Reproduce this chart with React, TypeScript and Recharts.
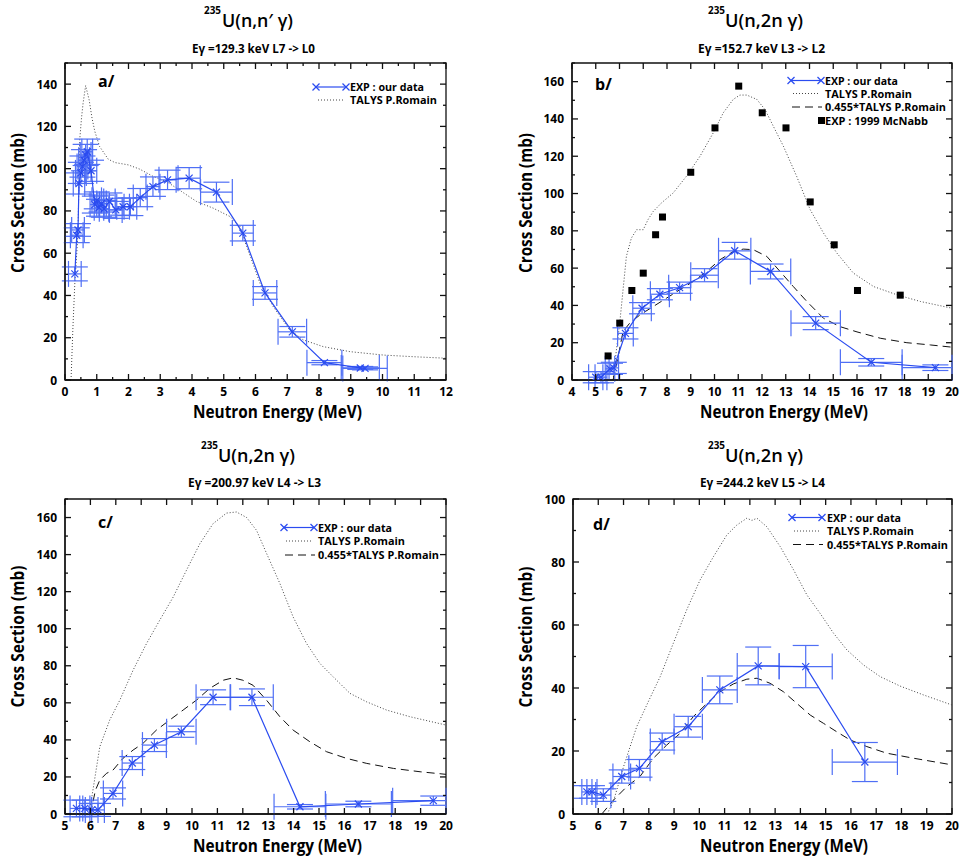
import React from "react";
import { ComposedChart, Line, Scatter, ErrorBar, XAxis, YAxis, ReferenceArea } from "recharts";

// ---------- panel a : 235U(n,n'g) 129.3 keV ----------
const expA_x = [0.31, 0.37, 0.41, 0.44, 0.5, 0.55, 0.6, 0.65, 0.7, 0.82, 0.94, 1.0, 1.07, 1.15, 1.23, 1.4, 1.6, 1.83, 2.06, 2.37, 2.77, 3.23, 3.91, 4.77, 5.6, 6.3, 7.16, 8.17, 9.3, 9.45];
const expA_y = [50.2, 68.5, 71, 93, 98, 101, 104, 106.5, 108, 99, 83, 85, 81.5, 83.5, 81, 84.5, 80.5, 82, 82, 86.3, 91.5, 94.7, 95.5, 88.9, 69.5, 41.2, 22.8, 8.2, 5.7, 5.5];
const expA_ex = [0.2, 0.2, 0.2, 0.18, 0.17, 0.17, 0.17, 0.17, 0.17, 0.18, 0.15, 0.15, 0.15, 0.15, 0.15, 0.18, 0.2, 0.2, 0.2, 0.22, 0.22, 0.27, 0.35, 0.5, 0.33, 0.37, 0.45, 0.55, 0.6, 0.7];
const expA_ey = [3.3, 3.5, 3, 5, 5, 5, 5, 5, 6, 5, 4, 4, 4, 4, 4, 4, 4, 4, 4.2, 4.3, 4.6, 4.6, 5, 4.7, 3.7, 3, 2.5, 1, 0.7, 0.7];
const talysA_x = [0.19, 0.25, 0.31, 0.41, 0.46, 0.52, 0.57, 0.65, 0.76, 0.85, 0.94, 1.09, 1.36, 1.57, 1.99, 2.35, 2.78, 3.2, 3.67, 4.14, 4.67, 5.19, 5.51, 5.72, 5.85, 6.14, 6.56, 7.08, 7.5, 8.13, 8.98, 10.03, 11.0, 12];
const talysA_y = [0, 25, 46, 69.5, 113, 124, 131, 139.3, 132.6, 124, 117.6, 110.5, 104.5, 102.9, 101.8, 99.8, 96.3, 93.9, 89.2, 84.5, 81.3, 77.4, 72.6, 63.2, 58, 45.8, 34.7, 23.7, 19, 15.8, 13.4, 11.8, 11, 10.3];

// ---------- panel b : 235U(n,2ng) 152.7 keV ----------
const expB_x = [5.0, 5.22, 5.6, 5.76, 6.25, 6.95, 7.7, 8.53, 9.58, 10.85, 12.36, 14.26, 16.6, 19.3];
const expB_y = [1.5, 1.5, 6, 6.5, 25, 38.5, 46, 49.5, 56.2, 69.3, 58.2, 30.5, 9.5, 6.6];
const expB_ex = [0.3, 0.25, 0.2, 0.2, 0.33, 0.39, 0.4, 0.46, 0.58, 0.68, 0.85, 1.04, 1.3, 1.4];
const expB_ey = [3, 3, 3, 3, 3, 3, 3, 3, 3.5, 4.5, 4, 3.5, 2, 1.5];
const mcnabb_x = [5.52, 6.01, 6.52, 7.0, 7.52, 7.81, 9.0, 10.02, 11.02, 12.01, 13.01, 14.03, 15.04, 16.02, 17.82];
const mcnabb_y = [12.9, 30.5, 48, 57.3, 77.9, 87.4, 111.4, 135.2, 157.6, 143.3, 135.2, 95.5, 72.5, 48, 45.5];
const talysB_x = [5.73, 5.87, 6.01, 6.15, 6.29, 6.5, 6.72, 7.0, 7.2, 7.42, 7.77, 8.26, 8.82, 9.39, 9.95, 10.37, 10.79, 11.07, 11.36, 11.78, 12.13, 12.48, 12.9, 13.46, 14.03, 14.59, 15.15, 15.85, 16.7, 17.68, 18.67, 20];
const talysB_y = [0, 16.1, 30.5, 48.4, 66.3, 76.1, 80.6, 80.6, 86, 90.4, 95, 100.3, 109.3, 120, 132.6, 143.3, 150.5, 152.8, 152.8, 150.5, 145, 136, 125.4, 109.2, 91.3, 78.8, 68.1, 57.3, 50.1, 45.7, 42.1, 38.5];
const scaledB_x = [5.73, 5.94, 6.15, 6.43, 6.86, 7.42, 7.98, 8.54, 9.1, 9.67, 10.23, 10.79, 11.21, 11.63, 12.2, 12.76, 13.32, 13.89, 14.59, 15.29, 16.0, 16.98, 18.1, 19.09, 20];
const scaledB_y = [0, 12.5, 26, 30.5, 34.9, 39.4, 43.9, 48.4, 52.8, 58.2, 64.5, 68.9, 70.2, 69.9, 66.3, 58.2, 50.1, 42.1, 33.1, 28.6, 25.8, 22.4, 20, 18.8, 17.6];

// ---------- panel c : 235U(n,2ng) 200.97 keV ----------
const expC_x = [5.45, 5.78, 6.05, 6.3, 6.89, 7.65, 8.52, 9.58, 10.83, 12.36, 14.25, 16.55, 19.5];
const expC_y = [3, 3, 2.2, 2.2, 11.1, 27.5, 37.2, 44.4, 63, 63, 3.9, 5.4, 7.2];
const expC_ex = [0.25, 0.2, 0.25, 0.25, 0.38, 0.4, 0.47, 0.58, 0.67, 0.84, 1.02, 1.3, 1.6];
const expC_ey = [4.5, 4.5, 3.5, 3.5, 3, 3.5, 3.5, 3, 4, 4.5, 1.2, 1.5, 2.5];
const talysC_x = [5.95, 6.1, 6.37, 6.76, 7.16, 7.68, 8.21, 8.73, 9.26, 9.78, 10.31, 10.83, 11.36, 11.75, 12.15, 12.54, 12.94, 13.46, 13.98, 14.51, 15.04, 15.56, 16.22, 16.88, 17.66, 18.58, 20];
const talysC_y = [0, 12.9, 36.3, 50.7, 61.5, 77.6, 92, 104.6, 117.1, 131.5, 145.9, 156.7, 162.4, 163, 160, 153.1, 140.5, 124.4, 106.4, 92, 81.2, 74, 65.1, 60.5, 56.1, 52.5, 48];
const scaledC_x = [6.0, 6.2, 6.37, 6.63, 6.89, 7.28, 7.68, 8.07, 8.6, 9.12, 9.65, 10.18, 10.7, 11.23, 11.62, 12.0, 12.4, 12.93, 13.46, 13.98, 14.64, 15.3, 16.09, 16.88, 17.93, 18.98, 20];
const scaledC_y = [0, 12.9, 18.3, 21.9, 23.7, 30, 34.5, 38.1, 45.3, 50.7, 56.1, 61.5, 67.8, 72.2, 73.5, 72.2, 69.5, 61.5, 52.5, 45.3, 39, 33.6, 30, 27.3, 24.6, 22.8, 21.4];

// ---------- panel d : 235U(n,2ng) 244.2 keV ----------
const expD_x = [5.55, 5.75, 6.2, 6.93, 7.63, 8.53, 9.56, 10.81, 12.33, 14.21, 16.55];
const expD_y = [7, 7, 6, 11.9, 14.5, 23, 27.7, 39.4, 47, 46.8, 16.5];
const expD_ex = [0.2, 0.2, 0.3, 0.35, 0.42, 0.47, 0.56, 0.69, 0.83, 1.05, 1.29];
const expD_ey = [2, 2, 2, 2.1, 2.8, 2.7, 3.3, 4.4, 6, 6.7, 6.2];
const talysD_x = [6.35, 6.6, 7.0, 7.52, 8.0, 8.45, 8.97, 9.5, 10.03, 10.56, 11.09, 11.48, 11.88, 12.08, 12.28, 12.67, 13.2, 13.73, 14.26, 14.78, 15.31, 15.84, 16.5, 17.16, 17.95, 18.87, 20];
const talysD_y = [0, 4, 15, 27.7, 36, 43.6, 54.2, 64.8, 74.3, 81.7, 88.6, 91.7, 93.9, 93.2, 93.9, 91.2, 84.9, 77.5, 69.5, 63.7, 57.4, 52.1, 47.3, 43.6, 40.6, 37.8, 34.6];
const scaledD_x = [6.14, 6.6, 7.13, 7.65, 8.18, 8.71, 9.24, 9.76, 10.3, 10.82, 11.35, 11.88, 12.28, 12.8, 13.33, 13.86, 14.39, 14.91, 15.44, 15.97, 16.63, 17.42, 18.48, 20];
const scaledD_y = [0, 4.4, 8.7, 11.9, 17.7, 21.9, 25.6, 30.9, 35.1, 38.8, 41.3, 42.8, 43.1, 41.5, 38.8, 35.1, 31.4, 28.8, 26.1, 23.5, 21.4, 19.3, 17.7, 15.6];

// ---------- axis ticks ----------
const ticksA_x = [0, 0.5, 1, 1.5, 2, 2.5, 3, 3.5, 4, 4.5, 5, 5.5, 6, 6.5, 7, 7.5, 8, 8.5, 9, 9.5, 10, 10.5, 11, 11.5, 12];
const ticksB_x = [4, 5, 6, 7, 8, 9, 10, 11, 12, 13, 14, 15, 16, 17, 18, 19, 20];
const ticksCD_x = [5, 6, 7, 8, 9, 10, 11, 12, 13, 14, 15, 16, 17, 18, 19, 20];
const ticksA_y = [0, 10, 20, 30, 40, 50, 60, 70, 80, 90, 100, 110, 120, 130, 140, 150];
const ticksBC_y = [0, 10, 20, 30, 40, 50, 60, 70, 80, 90, 100, 110, 120, 130, 140, 150, 160, 170];
const ticksD_y = [0, 10, 20, 30, 40, 50, 60, 70, 80, 90, 100];

const BLUE = "#2b4cf0";
const ERR = "#4f6ff5";
const FRAME = "#111";
const FONT = '"Open Sans", sans-serif';

const pts = (xs: number[], ys: number[]) => xs.map((x, i) => ({ x, y: ys[i] }));
const expPts = (xs: number[], ys: number[], ex: number[], ey: number[]) =>
  xs.map((x, i) => ({ x, xv: x, y: ys[i], ex: ex[i], ey: ey[i] }));

type Side = "bottom" | "left";

// inward ticks; the opposite frame side gets the same tick mirrored
const makeTick = (side: Side, major: number, span: number) => (p: any) => {
  const { x, y, payload } = p;
  const v = Number(payload.value);
  const r = v / major;
  const isMajor = Math.abs(r - Math.round(r)) < 1e-6;
  const len = isMajor ? 6 : 3;
  if (side === "bottom") {
    const yt = y - span;
    return (
      <g>
        <line x1={x} y1={y} x2={x} y2={y - len} stroke={FRAME} strokeWidth={1.3} />
        <line x1={x} y1={yt} x2={x} y2={yt + len} stroke={FRAME} strokeWidth={1.3} />
        {isMajor && (
          <text x={x} y={y + 16} textAnchor="middle" fontFamily={FONT} fontWeight={700} fontSize={12} fill="#000">
            {v}
          </text>
        )}
      </g>
    );
  }
  const xr = x + span;
  return (
    <g>
      <line x1={x} y1={y} x2={x + len} y2={y} stroke={FRAME} strokeWidth={1.3} />
      <line x1={xr} y1={y} x2={xr - len} y2={y} stroke={FRAME} strokeWidth={1.3} />
      {isMajor && (
        <text x={x - 8} y={y + 4.5} textAnchor="end" fontFamily={FONT} fontWeight={700} fontSize={12} fill="#000">
          {v}
        </text>
      )}
    </g>
  );
};

const XMark = (p: any) => {
  const { cx, cy } = p;
  const s = 3.5;
  return (
    <g>
      <line x1={cx - s} y1={cy - s} x2={cx + s} y2={cy + s} stroke={BLUE} strokeWidth={1.2} />
      <line x1={cx - s} y1={cy + s} x2={cx + s} y2={cy - s} stroke={BLUE} strokeWidth={1.2} />
    </g>
  );
};

const Square = (p: any) => {
  const { cx, cy } = p;
  return <rect x={cx - 3.5} y={cy - 3.5} width={7} height={7} fill="#000" />;
};

interface PanelProps {
  left: number;
  top: number;
  width: number;
  height: number;
  margin: { top: number; right: number; bottom: number; left: number };
  yWidth: number;
  xHeight: number;
  xDomain: [number, number];
  xTicks: number[];
  xMajor: number;
  yDomain: [number, number];
  yTicks: number[];
  exp: { x: number; xv: number; y: number; ex: number; ey: number }[];
  talys: { x: number; y: number }[];
  scaled?: { x: number; y: number }[];
  mcnabb?: { x: number; y: number }[];
}

function Panel(props: PanelProps) {
  const axisLine = { stroke: FRAME, strokeWidth: 1.3 };
  const m = props.margin;
  const plotW = props.width - m.left - m.right - props.yWidth;
  const plotH = props.height - m.top - m.bottom - props.xHeight;
  const xmax = props.xDomain[1];
  // horizontal error stops at the frame, like the clipped original
  const xErr = (d: any) => [d.ex, Math.min(d.ex, xmax - d.xv)];
  return (
    <div style={{ position: "absolute", left: props.left, top: props.top }}>
      <ComposedChart width={props.width} height={props.height} margin={m}>
        <XAxis
          xAxisId="b"
          type="number"
          dataKey="x"
          orientation="bottom"
          domain={props.xDomain}
          ticks={props.xTicks}
          interval={0}
          allowDataOverflow
          height={props.xHeight}
          tickSize={0}
          tickMargin={0}
          tickLine={false}
          axisLine={axisLine}
          tick={makeTick("bottom", props.xMajor, plotH)}
        />
        <YAxis
          yAxisId="l"
          type="number"
          dataKey="y"
          orientation="left"
          domain={props.yDomain}
          ticks={props.yTicks}
          interval={0}
          allowDataOverflow
          width={props.yWidth}
          tickSize={0}
          tickMargin={0}
          tickLine={false}
          axisLine={axisLine}
          tick={makeTick("left", 20, plotW)}
        />
        <ReferenceArea
          xAxisId="b"
          yAxisId="l"
          x1={props.xDomain[0]}
          x2={props.xDomain[1]}
          y1={props.yDomain[0]}
          y2={props.yDomain[1]}
          fill="none"
          stroke={FRAME}
          strokeWidth={1.3}
          ifOverflow="visible"
        />
        <Line
          xAxisId="b"
          yAxisId="l"
          data={props.talys}
          dataKey="y"
          type="linear"
          dot={false}
          stroke="#444"
          strokeWidth={1}
          strokeDasharray="1 2"
          isAnimationActive={false}
        />
        {props.scaled && (
          <Line
            xAxisId="b"
            yAxisId="l"
            data={props.scaled}
            dataKey="y"
            type="linear"
            dot={false}
            stroke="#111"
            strokeWidth={1}
            strokeDasharray="8 5"
            isAnimationActive={false}
          />
        )}
        {props.mcnabb && (
          <Scatter xAxisId="b" yAxisId="l" data={props.mcnabb} shape={Square} isAnimationActive={false} />
        )}
        <Scatter
          xAxisId="b"
          yAxisId="l"
          data={props.exp}
          line={{ stroke: BLUE, strokeWidth: 1.2 }}
          lineType="joint"
          shape={XMark}
          isAnimationActive={false}
        >
          <ErrorBar dataKey={xErr} direction="x" width={13} stroke={ERR} strokeWidth={1.2} />
          <ErrorBar dataKey="ey" direction="y" width={13} stroke={ERR} strokeWidth={1.2} />
        </Scatter>
      </ComposedChart>
    </div>
  );
}

const T = (p: { x: number; y: number; w?: number; size: number; weight?: number; anchor?: string; children: React.ReactNode; transform?: string }) => (
  <text
    x={p.x}
    y={p.y}
    fontFamily={FONT}
    fontSize={p.size}
    fontWeight={p.weight ?? 700}
    textAnchor={p.anchor ?? "start"}
    textLength={p.w}
    lengthAdjust={p.w ? "spacingAndGlyphs" : undefined}
    transform={p.transform}
    fill="#000"
  >
    {p.children}
  </text>
);

function Title(p: { sx: number; mx: number; mw: number; base: number; main: string }) {
  return (
    <g>
      <T x={p.sx} y={p.base - 13} w={17} size={10}>235</T>
      <T x={p.mx} y={p.base} w={p.mw} size={18} weight={600}>{p.main}</T>
    </g>
  );
}

function LegendRow(p: { kind: "exp" | "talys" | "scaled" | "mcnabb"; x1: number; x2: number; tx: number; y: number; label: string; w: number }) {
  const { x1, x2, y } = p;
  const s = 3.5;
  return (
    <g>
      {p.kind === "exp" && (
        <g>
          <line x1={x1} y1={y} x2={x2} y2={y} stroke={BLUE} strokeWidth={1.2} />
          {[x1, x2].map((cx) => (
            <g key={cx}>
              <line x1={cx - s} y1={y - s} x2={cx + s} y2={y + s} stroke={BLUE} strokeWidth={1.2} />
              <line x1={cx - s} y1={y + s} x2={cx + s} y2={y - s} stroke={BLUE} strokeWidth={1.2} />
            </g>
          ))}
        </g>
      )}
      {p.kind === "talys" && <line x1={x1} y1={y} x2={x2} y2={y} stroke="#444" strokeDasharray="1 2" />}
      {p.kind === "scaled" && <line x1={x1} y1={y} x2={x2} y2={y} stroke="#111" strokeDasharray="8 5" />}
      {p.kind === "mcnabb" && <rect x={x2 - 4} y={y - 3.5} width={7} height={7} fill="#000" />}
      <T x={p.tx} y={y + 4} w={p.w} size={11}>{p.label}</T>
    </g>
  );
}

export default function App() {
  return (
    <div style={{ position: "absolute", left: 0, top: 0, width: 961, height: 858, background: "#fff" }}>
      <Panel
        left={0}
        top={0}
        width={480}
        height={430}
        margin={{ top: 63, right: 34, bottom: 0, left: 0 }}
        yWidth={65}
        xHeight={50}
        xDomain={[0, 12]}
        xTicks={ticksA_x}
        xMajor={1}
        yDomain={[0, 150]}
        yTicks={ticksA_y}
        exp={expPts(expA_x, expA_y, expA_ex, expA_ey)}
        talys={pts(talysA_x, talysA_y)}
      />
      <Panel
        left={480}
        top={0}
        width={481}
        height={430}
        margin={{ top: 63, right: 9, bottom: 0, left: 0 }}
        yWidth={92}
        xHeight={50}
        xDomain={[4, 20]}
        xTicks={ticksB_x}
        xMajor={1}
        yDomain={[0, 170]}
        yTicks={ticksBC_y}
        exp={expPts(expB_x, expB_y, expB_ex, expB_ey)}
        talys={pts(talysB_x, talysB_y)}
        scaled={pts(scaledB_x, scaledB_y)}
        mcnabb={pts(mcnabb_x, mcnabb_y)}
      />
      <Panel
        left={0}
        top={430}
        width={480}
        height={428}
        margin={{ top: 69, right: 34, bottom: 0, left: 0 }}
        yWidth={65}
        xHeight={44}
        xDomain={[5, 20]}
        xTicks={ticksCD_x}
        xMajor={1}
        yDomain={[0, 170]}
        yTicks={ticksBC_y}
        exp={expPts(expC_x, expC_y, expC_ex, expC_ey)}
        talys={pts(talysC_x, talysC_y)}
        scaled={pts(scaledC_x, scaledC_y)}
      />
      <Panel
        left={480}
        top={430}
        width={481}
        height={428}
        margin={{ top: 69, right: 9, bottom: 0, left: 0 }}
        yWidth={93}
        xHeight={44}
        xDomain={[5, 20]}
        xTicks={ticksCD_x}
        xMajor={1}
        yDomain={[0, 100]}
        yTicks={ticksD_y}
        exp={expPts(expD_x, expD_y, expD_ex, expD_ey)}
        talys={pts(talysD_x, talysD_y)}
        scaled={pts(scaledD_x, scaledD_y)}
      />
      <svg width={961} height={858} style={{ position: "absolute", left: 0, top: 0, pointerEvents: "none" }}>
        {/* titles */}
        <Title sx={204} mx={222} mw={71} base={27} main="U(n,n′ γ)" />
        <Title sx={708} mx={725} mw={78} base={27} main="U(n,2n γ)" />
        <Title sx={201} mx={218} mw={77} base={462} main="U(n,2n γ)" />
        <Title sx={708} mx={725} mw={78} base={462} main="U(n,2n γ)" />
        <T x={192} y={52.5} w={123} size={12}>Eγ =129.3 keV L7 -&gt; L0</T>
        <T x={698} y={52.5} w={127} size={12}>Eγ =152.7 keV L3 -&gt; L2</T>
        <T x={188} y={487} w={133} size={12}>Eγ =200.97 keV L4 -&gt; L3</T>
        <T x={700} y={487} w={125} size={12}>Eγ =244.2 keV L5 -&gt; L4</T>
        {/* axis titles */}
        <T x={0} y={0} w={140} size={18} anchor="middle" transform="translate(23.5,203) rotate(-90)">Cross Section (mb)</T>
        <T x={0} y={0} w={140} size={18} anchor="middle" transform="translate(531.5,203) rotate(-90)">Cross Section (mb)</T>
        <T x={0} y={0} w={142} size={18} anchor="middle" transform="translate(23.5,636.5) rotate(-90)">Cross Section (mb)</T>
        <T x={0} y={0} w={141} size={18} anchor="middle" transform="translate(531.5,637) rotate(-90)">Cross Section (mb)</T>
        <T x={277.5} y={417.5} w={169} size={18} anchor="middle">Neutron Energy (MeV)</T>
        <T x={784} y={417.5} w={168} size={18} anchor="middle">Neutron Energy (MeV)</T>
        <T x={277.5} y={852} w={169} size={18} anchor="middle">Neutron Energy (MeV)</T>
        <T x={784} y={852} w={168} size={18} anchor="middle">Neutron Energy (MeV)</T>
        {/* panel letters */}
        <T x={98} y={87} size={16}>a/</T>
        <T x={595} y={90} size={16}>b/</T>
        <T x={98} y={528} size={16}>c/</T>
        <T x={593} y={530} size={16}>d/</T>
        {/* legends */}
        <LegendRow kind="exp" x1={316} x2={346} tx={350} y={87} label="EXP : our data" w={74} />
        <LegendRow kind="talys" x1={318} x2={345} tx={350} y={100} label="TALYS P.Romain" w={87} />

        <LegendRow kind="exp" x1={791} x2={821} tx={825} y={80.5} label="EXP : our data" w={73} />
        <LegendRow kind="talys" x1={793} x2={820} tx={825} y={93.5} label="TALYS P.Romain" w={87} />
        <LegendRow kind="scaled" x1={792} x2={822} tx={825} y={107} label="0.455*TALYS P.Romain" w={121} />
        <LegendRow kind="mcnabb" x1={792} x2={822} tx={825} y={120.5} label="EXP : 1999 McNabb" w={103} />

        <LegendRow kind="exp" x1={284} x2={314} tx={318} y={527.5} label="EXP : our data" w={74} />
        <LegendRow kind="talys" x1={286} x2={313} tx={318} y={541} label="TALYS P.Romain" w={87} />
        <LegendRow kind="scaled" x1={285} x2={315} tx={318} y={555} label="0.455*TALYS P.Romain" w={121} />

        <LegendRow kind="exp" x1={792} x2={822} tx={827} y={517.5} label="EXP : our data" w={74} />
        <LegendRow kind="talys" x1={794} x2={821} tx={827} y={531} label="TALYS P.Romain" w={87} />
        <LegendRow kind="scaled" x1={793} x2={823} tx={827} y={544.5} label="0.455*TALYS P.Romain" w={121} />
      </svg>
    </div>
  );
}
